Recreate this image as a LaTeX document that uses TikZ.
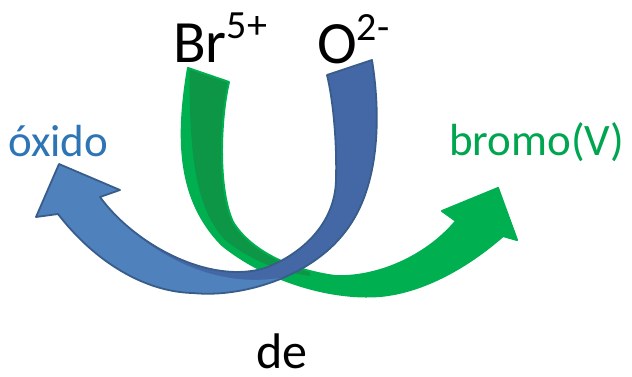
\documentclass[tikz,border=0pt]{standalone}
\usepackage{fontspec}
\setmainfont{Carlito}
\definecolor{bluelight}{HTML}{4F81BD}
\definecolor{blueback}{HTML}{4467A5}
\definecolor{blueline}{HTML}{385D8A}
\definecolor{greenbright}{HTML}{00B050}
\definecolor{greenback}{HTML}{0C9646}
\definecolor{textblue}{HTML}{2E75B6}
\definecolor{textgreen}{HTML}{00A550}
\def\greenpath{(188,68) .. controls (176,140) and (178,200) .. (222,245) .. controls (265,280) and (330,300) .. (380,296) .. controls (425,292) and (470,265) .. (503,236) -- (517,240) -- (498,188) -- (442,211) -- (456,221) .. controls (425,258) and (375,278) .. (335,276) .. controls (290,270) and (250,250) .. (233,222) .. controls (218,190) and (220,120) .. (229,82) -- cycle}
\def\bluepath{(327,75) -- (372,60) .. controls (380,110) and (382,185) .. (345,232) .. controls (310,278) and (240,298) .. (193,293) .. controls (145,292) and (95,262) .. (58,214) -- (36,217) -- (59,164) -- (120,190) -- (100,197) .. controls (135,245) and (210,285) .. (265,268) .. controls (300,255) and (335,225) .. (336,180) .. controls (337,140) and (333,100) .. (327,75) -- cycle}
\begin{document}
\begin{tikzpicture}[x=1pt,y=-1pt,
  lbl/.style={inner sep=0pt, anchor=base west},
  bigfont/.style={font=\fontsize{60}{60}\selectfont},
  midfont/.style={font=\fontsize{45}{45}\selectfont}]
\useasboundingbox (0,0) rectangle (632,376);
\fill[white] (0,0) rectangle (632,376);
% green arrow (Br -> bromo(V))
\fill[greenbright] \greenpath;
\begin{scope}
  \clip \greenpath;
  \fill[greenback] (190,40) .. controls (188,140) and (192,205) .. (225,240) .. controls (250,260) and (280,272) .. (310,276) -- (310,40) -- cycle;
\end{scope}
\draw[greenbright, line width=2pt, line join=round] \greenpath;
% blue arrow (O -> oxido)
\fill[blueback] \bluepath;
\begin{scope}
  \clip \bluepath;
  \fill[bluelight] (0,100) -- (140,100) -- (118,218) .. controls (165,265) and (228,290) .. (290,276) -- (290,376) -- (0,376) -- cycle;
\end{scope}
\draw[blueline, line width=1.8pt, line join=round] \bluepath;
% labels
\node[lbl, bigfont] (br) at (173,62) {Br\raisebox{24pt}{\fontsize{40}{40}\selectfont 5+}};
\node[lbl, bigfont] (ox) at (317,63) {O\raisebox{23pt}{\fontsize{40}{40}\selectfont 2-}};
\node[lbl, midfont, text=textblue] (oxido) at (8,156) {óxido};
\node[lbl, midfont, text=textgreen] (bromo) at (449,155) {bromo(V)};
\node[lbl, font=\fontsize{50}{50}\selectfont] (de) at (256,368) {de};
\end{tikzpicture}
\end{document}
